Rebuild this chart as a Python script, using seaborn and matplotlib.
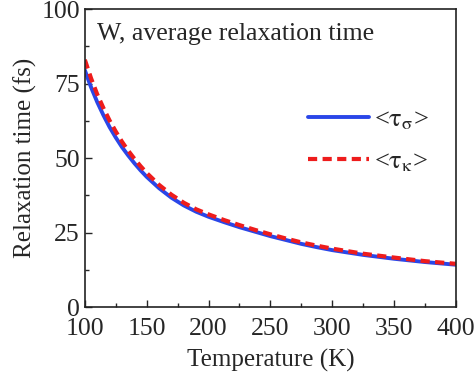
import numpy as np
import pandas as pd
import matplotlib
matplotlib.use('Agg')
import matplotlib.pyplot as plt
from matplotlib.ticker import MultipleLocator
import seaborn as sns

# values
temperature = [100, 105, 110, 115, 120, 125, 130, 135, 140, 145, 150, 160, 170, 180, 190, 200,
               212.5, 225, 237.5, 250, 262.5, 275, 287.5, 300, 325, 350, 375, 400]
tau_sigma = [79.5, 73.8, 68.8, 64.4, 60.4, 56.9, 53.7, 50.9, 48.3, 45.9, 43.7, 39.9, 36.7, 34.1, 32.0, 30.3,
             28.5, 26.8, 25.3, 23.8, 22.5, 21.2, 20.1, 19.1, 17.5, 16.2, 15.1, 14.2]
tau_kappa = [83.0, 76.8, 71.4, 66.8, 62.6, 58.9, 55.5, 52.5, 49.8, 47.3, 45.0, 41.0, 37.7, 35.0, 32.8, 31.1,
             29.2, 27.5, 25.9, 24.4, 23.0, 21.7, 20.6, 19.6, 17.9, 16.6, 15.4, 14.5]

sns.set_style('ticks')
plt.rcParams['font.family'] = ['Liberation Serif', 'DejaVu Serif']
plt.rcParams['mathtext.fontset'] = 'stix'

df = pd.DataFrame({'T': temperature, 'sigma': tau_sigma, 'kappa': tau_kappa})

fig = plt.figure(figsize=(4.74, 3.8), dpi=100)
ax = fig.add_axes([0.179, 0.192, 0.783, 0.784])

sns.lineplot(data=df, x='T', y='sigma', ax=ax, color='#2a46e8', lw=2.8,
             label=r'<$\mathrm{\tau}_{\mathrm{\sigma}}$>')
sns.lineplot(data=df, x='T', y='kappa', ax=ax, color='#ee1c1c', lw=3,
             label=r'<$\mathrm{\tau}_{\mathrm{\kappa}}$>')
ax.lines[1].set_dashes([2.2, 1.3])

ax.set_xlim(100, 400)
ax.set_ylim(0, 100)
ax.xaxis.set_major_locator(MultipleLocator(50))
ax.xaxis.set_minor_locator(MultipleLocator(25))
ax.yaxis.set_major_locator(MultipleLocator(25))
ax.yaxis.set_minor_locator(MultipleLocator(12.5))
ax.tick_params(which='both', direction='in', top=False, right=False, labelsize=18.5, width=1)
ax.tick_params(which='major', length=5)
ax.tick_params(which='minor', length=3)
ax.tick_params(axis='x', pad=8)
for s in ax.spines.values():
    s.set_linewidth(1.2)
    s.set_color('#222222')

ax.set_xlabel('Temperature (K)', fontsize=18, labelpad=6)
ax.set_ylabel('Relaxation time (fs)', fontsize=18, labelpad=3)

ax.text(0.032, 0.955, 'W, average relaxation time', transform=ax.transAxes,
        fontsize=18.5, va='top', ha='left')

leg = ax.legend(loc='upper right', bbox_to_anchor=(0.955, 0.705), frameon=False,
                fontsize=19, handlelength=2.3, handletextpad=0.2, labelspacing=0.7,
                borderaxespad=0)

fig.savefig('out.png', dpi=100)
